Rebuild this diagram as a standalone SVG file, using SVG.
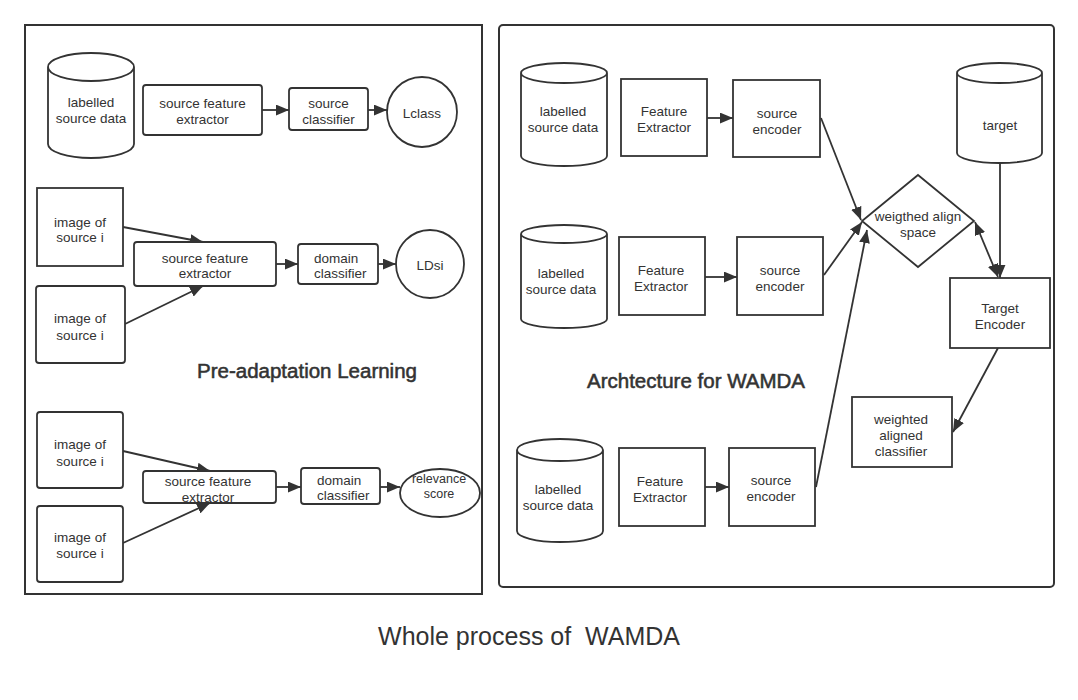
<svg xmlns="http://www.w3.org/2000/svg" width="1078" height="700" viewBox="0 0 1078 700">
<defs>
<marker id="ah" viewBox="0 0 12 10" refX="12" refY="5" markerWidth="13" markerHeight="11" markerUnits="userSpaceOnUse" orient="auto-start-reverse">
<path d="M0,0 L12,5 L0,10 z" fill="#333"/>
</marker>
<style>
.sh{fill:#fff;stroke:#333;stroke-width:1.8}
.pn{fill:#fff;stroke:#333;stroke-width:2}
.t{font-family:"Liberation Sans",Arial,sans-serif;font-size:13.5px;fill:#333;text-anchor:middle}
.ts{font-family:"Liberation Sans",Arial,sans-serif;font-size:13.5px;fill:#333;text-anchor:start}
.tsm{font-family:"Liberation Sans",Arial,sans-serif;font-size:12.5px;fill:#333;text-anchor:middle}
.ti{font-family:"Liberation Sans",Arial,sans-serif;font-size:20.5px;fill:#333;stroke:#333;stroke-width:0.55;text-anchor:middle}
.cap{font-family:"Liberation Sans",Arial,sans-serif;font-size:25px;fill:#333;text-anchor:middle}
.c{fill:none;stroke:#333;stroke-width:1.8;marker-end:url(#ah)}
</style>
</defs>
<rect width="1078" height="700" fill="#fff"/>
<g id="panel-left"><rect class="pn" x="25" y="25" width="457" height="569"/></g>
<g id="panel-right"><rect class="pn" x="499" y="25" width="555" height="562" rx="4"/></g>

<g id="connectors">
<line class="c" x1="262" y1="110" x2="289" y2="110"/>
<line class="c" x1="368" y1="110" x2="387" y2="110"/>
<line class="c" x1="123" y1="227" x2="203" y2="242"/>
<line class="c" x1="125" y1="324" x2="203" y2="286"/>
<line class="c" x1="276" y1="264" x2="298" y2="264"/>
<line class="c" x1="378" y1="264" x2="396" y2="264"/>
<line class="c" x1="123" y1="451" x2="210" y2="471"/>
<line class="c" x1="123" y1="543" x2="210" y2="503"/>
<line class="c" x1="276" y1="487" x2="301" y2="487"/>
<line class="c" x1="380" y1="487" x2="400" y2="487"/>
<line class="c" x1="707" y1="118" x2="733" y2="118"/>
<line class="c" x1="705" y1="277" x2="737" y2="277"/>
<line class="c" x1="705" y1="487" x2="729" y2="487"/>
<line class="c" x1="821" y1="118" x2="861" y2="220"/>
<line class="c" x1="824" y1="275" x2="862" y2="222"/>
<line class="c" x1="816" y1="487" x2="867" y2="230"/>
<line class="c" x1="1000" y1="163" x2="1000" y2="278"/>
<line class="c" x1="975" y1="222" x2="998" y2="277" style="marker-start:url(#ah)"/>
<line class="c" x1="998" y1="348" x2="953" y2="432"/>
</g>

<g id="n-lsd1"><path class="sh" d="M48,67 A43,14 0 0 1 134,67 V144 A43,14 0 0 1 48,144 Z M48,67 A43,14 0 0 0 134,67"/><text class="t" x="91" y="107">labelled</text><text class="t" x="91" y="123">source data</text></g>
<g id="n-sfe1"><rect class="sh" x="143" y="85" width="119" height="50" rx="3"/><text class="t" x="202.5" y="108">source feature</text><text class="t" x="202.5" y="124">extractor</text></g>
<g id="n-sc"><rect class="sh" x="289" y="88" width="79" height="42" rx="3"/><text class="t" x="328.5" y="108">source</text><text class="t" x="328.5" y="124">classifier</text></g>
<g id="n-lclass"><circle class="sh" cx="422" cy="112" r="35"/><text class="t" x="422" y="118">Lclass</text></g>

<g id="n-img1"><rect class="sh" x="37" y="188" width="86" height="78"/><text class="t" x="80" y="227">image of</text><text class="t" x="80" y="242">source i</text></g>
<g id="n-img2"><rect class="sh" x="36" y="286" width="89" height="77" rx="3"/><text class="t" x="80" y="323">image of</text><text class="t" x="80" y="340">source i</text></g>
<g id="n-sfe2"><rect class="sh" x="134" y="242" width="142" height="44" rx="3"/><text class="t" x="205" y="263">source feature</text><text class="t" x="205" y="278">extractor</text></g>
<g id="n-dc2"><rect class="sh" x="298" y="244" width="80" height="40" rx="3"/><text class="ts" x="314" y="263">domain</text><text class="ts" x="314" y="278">classifier</text></g>
<g id="n-ldsi"><circle class="sh" cx="430" cy="264" r="34"/><text class="t" x="430" y="270">LDsi</text></g>
<text class="ti" x="307" y="378">Pre-adaptation Learning</text>

<g id="n-img3"><rect class="sh" x="37" y="412" width="86" height="76" rx="3"/><text class="t" x="80" y="449">image of</text><text class="t" x="80" y="466">source i</text></g>
<g id="n-img4"><rect class="sh" x="37" y="506" width="86" height="76" rx="3"/><text class="t" x="80" y="542">image of</text><text class="t" x="80" y="558">source i</text></g>
<g id="n-sfe3"><rect class="sh" x="143" y="471" width="133" height="32" rx="3"/><text class="t" x="208" y="486">source feature</text><text class="t" x="208" y="502">extractor</text></g>
<g id="n-dc3"><rect class="sh" x="301" y="468" width="79" height="36" rx="3"/><text class="ts" x="317" y="485">domain</text><text class="ts" x="317" y="500">classifier</text></g>
<g id="n-rel"><ellipse class="sh" cx="440" cy="493" rx="40" ry="24"/><text class="tsm" x="439" y="483">relevance</text><text class="tsm" x="439" y="498">score</text></g>

<g id="n-rlsd1"><path class="sh" d="M521,73 A43,10 0 0 1 607,73 V156 A43,10 0 0 1 521,156 Z M521,73 A43,10 0 0 0 607,73"/><text class="t" x="563" y="116">labelled</text><text class="t" x="563" y="132">source data</text></g>
<g id="n-fe1"><rect class="sh" x="621" y="79" width="86" height="77"/><text class="t" x="664" y="116">Feature</text><text class="t" x="664" y="132">Extractor</text></g>
<g id="n-se1"><rect class="sh" x="733" y="80" width="87" height="77"/><text class="t" x="777" y="118">source</text><text class="t" x="777" y="134">encoder</text></g>
<g id="n-target"><path class="sh" d="M957,73 A42.5,10 0 0 1 1042,73 V153 A42.5,10 0 0 1 957,153 Z M957,73 A42.5,10 0 0 0 1042,73"/><text class="t" x="1000" y="130">target</text></g>

<g id="n-rlsd2"><path class="sh" d="M521,234 A43,9 0 0 1 607,234 V319 A43,9 0 0 1 521,319 Z M521,234 A43,9 0 0 0 607,234"/><text class="t" x="561" y="278">labelled</text><text class="t" x="561" y="294">source data</text></g>
<g id="n-fe2"><rect class="sh" x="619" y="237" width="86" height="78"/><text class="t" x="661" y="275">Feature</text><text class="t" x="661" y="291">Extractor</text></g>
<g id="n-se2"><rect class="sh" x="737" y="237" width="86" height="78"/><text class="t" x="780" y="275">source</text><text class="t" x="780" y="291">encoder</text></g>
<g id="n-was"><path class="sh" d="M918,175 L974,221 L918,267 L862,221 Z"/><text class="t" x="918" y="221">weigthed align</text><text class="t" x="918" y="237">space</text></g>
<g id="n-te"><rect class="sh" x="950" y="278" width="100" height="70"/><text class="t" x="1000" y="313">Target</text><text class="t" x="1000" y="329">Encoder</text></g>
<text class="ti" x="696" y="388">Archtecture for WAMDA</text>
<g id="n-wac"><rect class="sh" x="852" y="397" width="100" height="70"/><text class="t" x="901" y="424">weighted</text><text class="t" x="901" y="440">aligned</text><text class="t" x="901" y="456">classifier</text></g>

<g id="n-rlsd3"><path class="sh" d="M517,450 A43,11 0 0 1 603,450 V531 A43,11 0 0 1 517,531 Z M517,450 A43,11 0 0 0 603,450"/><text class="t" x="558" y="494">labelled</text><text class="t" x="558" y="510">source data</text></g>
<g id="n-fe3"><rect class="sh" x="619" y="448" width="86" height="78"/><text class="t" x="660" y="486">Feature</text><text class="t" x="660" y="502">Extractor</text></g>
<g id="n-se3"><rect class="sh" x="729" y="448" width="86" height="78"/><text class="t" x="771" y="485">source</text><text class="t" x="771" y="501">encoder</text></g>

<text class="cap" x="529" y="645" xml:space="preserve">Whole process of  WAMDA</text>
</svg>
